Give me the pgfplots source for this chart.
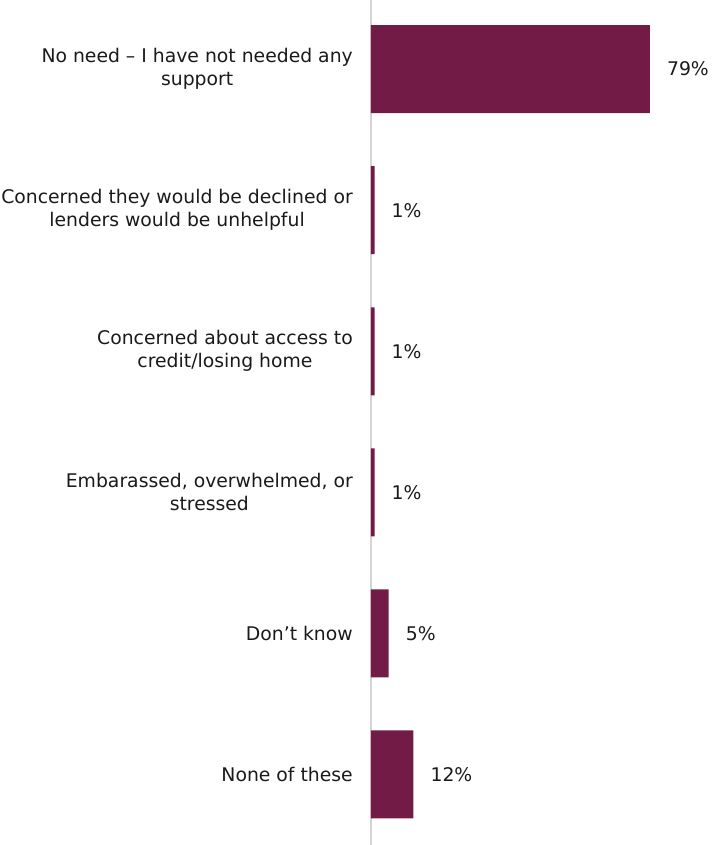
\documentclass[border=0pt]{standalone}
\usepackage{pgfplots}
\pgfplotsset{compat=1.18}
\usepackage{fontspec}
\setmainfont{DejaVu Sans}
\definecolor{barc}{HTML}{721B47}
\definecolor{txt}{HTML}{1A1A1A}
\begin{document}
\begin{tikzpicture}
\begin{axis}[
  scale only axis,
  width=341bp, height=845bp,
  xbar, bar width=88bp,
  xmin=0, xmax=96.6,
  ymin=-0.49, ymax=5.5,
  y dir=reverse,
  axis x line=none,
  axis y line=left,
  y axis line style={draw=black!17, line width=1.5bp, -},
  ytick={0,1,2,3,4,5},
  major tick length=0pt,
  yticklabels={{No need – I have not needed any\\support},
    {Concerned they would be declined or\\lenders would be unhelpful},
    {Concerned about access to\\credit/losing home},
    {Embarassed, overwhelmed, or\\stressed},
    {Don’t know},
    {None of these}},
  yticklabel style={align=center, anchor=east, inner sep=0pt, xshift=-18bp,
    font=\fontsize{18.8bp}{23bp}\selectfont, text=txt},
  nodes near coords={\pgfmathprintnumber{\pgfplotspointmeta}\%},
  nodes near coords align={horizontal},
  every node near coord/.append style={anchor=west, inner sep=0pt, xshift=17bp,
    font=\fontsize{18.8bp}{22bp}\selectfont, text=txt},
  /pgf/number format/assume math mode=true,
  clip=false,
]
\addplot[fill=barc, draw=none] coordinates {(79,0) (1,1) (1,2) (1,3) (5,4) (12,5)};
\end{axis}
\pgfresetboundingbox
\useasboundingbox ([xshift=-371bp]current axis.south west) rectangle (current axis.north east);
\end{tikzpicture}
\end{document}
